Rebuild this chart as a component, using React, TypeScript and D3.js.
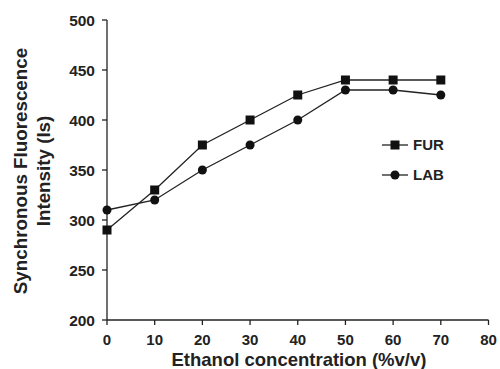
import React from "react";
import * as d3 from "d3";

const ethanol = [0, 10, 20, 30, 40, 50, 60, 70];
const furValues = [290, 330, 375, 400, 425, 440, 440, 440];
const labValues = [310, 320, 350, 375, 400, 430, 430, 425];
const xTicks = [0, 10, 20, 30, 40, 50, 60, 70, 80];
const yTicks = [200, 250, 300, 350, 400, 450, 500];

const W = 500;
const H = 369;
const FONT = "'Liberation Sans', Arial, Helvetica, sans-serif";

export default function App() {
  const x = d3.scaleLinear().domain([0, 80]).range([107, 488.5]);
  const y = d3.scaleLinear().domain([200, 500]).range([320, 20]);
  const line = d3
    .line<number>()
    .x((_, i) => x(ethanol[i]))
    .y((d) => y(d));

  return (
    <svg
      width={W}
      height={H}
      style={{ position: "absolute", left: 0, top: 0, background: "#fff" }}
      fontFamily={FONT}
    >
      {/* axes */}
      <line x1={x(0)} x2={x(0)} y1={y(500)} y2={y(200)} stroke="#222" strokeWidth={1.3} />
      <line x1={x(0)} x2={x(80)} y1={y(200)} y2={y(200)} stroke="#222" strokeWidth={1.3} />
      {yTicks.map((t) => (
        <g key={"y" + t}>
          <line x1={x(0) - 5} x2={x(0)} y1={y(t)} y2={y(t)} stroke="#222" strokeWidth={1.3} />
          <text
            x={x(0) - 12}
            y={y(t)}
            dy="0.36em"
            textAnchor="end"
            fontSize={15.5}
            fontWeight="bold"
            fill="#222"
          >
            {t}
          </text>
        </g>
      ))}
      {xTicks.map((t) => (
        <g key={"x" + t}>
          <line x1={x(t)} x2={x(t)} y1={y(200)} y2={y(200) + 5} stroke="#222" strokeWidth={1.3} />
          <text
            x={x(t)}
            y={340}
            dy="0.36em"
            textAnchor="middle"
            fontSize={15}
            fontWeight="bold"
            fill="#222"
          >
            {t}
          </text>
        </g>
      ))}
      {/* axis titles */}
      <text
        x={299}
        y={366}
        textAnchor="middle"
        fontSize={18.5}
        fontWeight="bold"
        fill="#222"
      >
        Ethanol concentration (%v/v)
      </text>
      <g transform="translate(0,171) rotate(-90)">
        <text x={0} y={27} textAnchor="middle" fontSize={18.8} fontWeight="bold" fill="#222">
          Synchronous Fluorescence
        </text>
        <text x={0} y={50} textAnchor="middle" fontSize={18.8} fontWeight="bold" fill="#222">
          Intensity (Is)
        </text>
      </g>
      {/* series */}
      <path d={line(furValues) || ""} fill="none" stroke="#222" strokeWidth={1.3} />
      <path d={line(labValues) || ""} fill="none" stroke="#222" strokeWidth={1.3} />
      {furValues.map((v, i) => (
        <rect key={"f" + i} x={x(ethanol[i]) - 4.5} y={y(v) - 4.5} width={9} height={9} fill="#111" />
      ))}
      {labValues.map((v, i) => (
        <circle key={"l" + i} cx={x(ethanol[i])} cy={y(v)} r={4.5} fill="#111" />
      ))}
      {/* legend */}
      <g>
        <line x1={382} x2={408} y1={145} y2={145} stroke="#222" strokeWidth={1.3} />
        <rect x={395 - 4.5} y={145 - 4.5} width={9} height={9} fill="#111" />
        <text x={413} y={145} dy="0.36em" fontSize={15} fontWeight="bold" fill="#222">
          FUR
        </text>
        <line x1={382} x2={408} y1={175} y2={175} stroke="#222" strokeWidth={1.3} />
        <circle cx={395} cy={175} r={4.5} fill="#111" />
        <text x={413} y={175} dy="0.36em" fontSize={15} fontWeight="bold" fill="#222">
          LAB
        </text>
      </g>
    </svg>
  );
}
